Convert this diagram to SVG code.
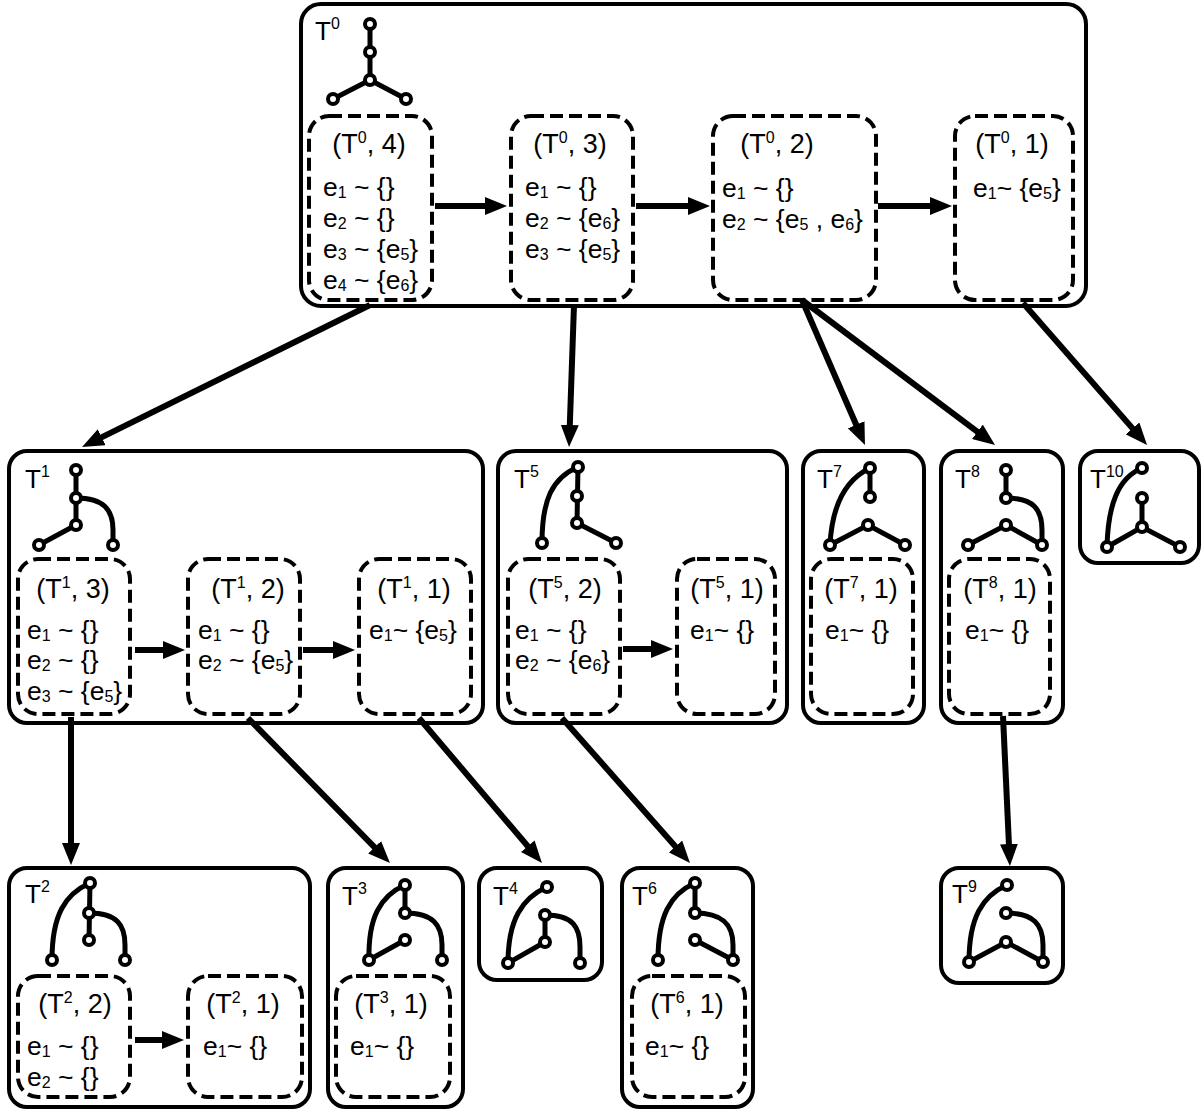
<svg xmlns="http://www.w3.org/2000/svg" width="1204" height="1114" viewBox="0 0 1204 1114">
<defs>
<style>
text{font-family:"Liberation Sans",Arial,sans-serif;fill:#000}
.lb{font-size:26px}
.hd{font-size:27px;text-anchor:middle}
.ln{font-size:26.5px}
.sp,.sb{font-size:16px}
.box{fill:#fff;stroke:#000;stroke-width:4}
.dbox{fill:none;stroke:#000;stroke-width:4;stroke-dasharray:13 6}
.edge{fill:none;stroke:#000;stroke-width:5;stroke-linecap:round}
.nd{fill:#fff;stroke:#000;stroke-width:4}
.arr{stroke:#000;stroke-width:6;fill:none;marker-end:url(#ah)}
</style>
<marker id="ah" markerUnits="userSpaceOnUse" markerWidth="22" markerHeight="18" viewBox="0 0 22 18" refX="6" refY="9" orient="auto">
<path d="M0,0 L22,9 L0,18 z" fill="#000"/>
</marker>
</defs>
<rect width="1204" height="1114" fill="#fff"/>

<g id="T0">
<rect class="box" x="301" y="4" width="785" height="302" rx="20"/>
<text class="lb" x="315" y="40">T<tspan class="sp" dy="-11">0</tspan></text>
<path class="edge" d="M370,24 L370,80 M370,80 L333,99 M370,80 L406,99"/>
<circle class="nd" cx="370" cy="24" r="5"/><circle class="nd" cx="370" cy="52" r="5"/><circle class="nd" cx="370" cy="80" r="5"/><circle class="nd" cx="333" cy="99" r="5"/><circle class="nd" cx="406" cy="99" r="5"/>
<rect class="dbox" x="309" y="116" width="123" height="184" rx="20"/>
<rect class="dbox" x="511" y="116" width="122" height="184" rx="20"/>
<rect class="dbox" x="713" y="116" width="163" height="184" rx="20"/>
<rect class="dbox" x="955" y="116" width="118" height="184" rx="20"/>
<text class="hd" x="369" y="153">(T<tspan class="sp" dy="-10">0</tspan><tspan dy="10">, 4)</tspan></text>
<text class="ln" x="323" y="196">e<tspan class="sb" dy="2">1</tspan><tspan dy="-2"> ~ {}</tspan></text>
<text class="ln" x="323" y="227">e<tspan class="sb" dy="2">2</tspan><tspan dy="-2"> ~ {}</tspan></text>
<text class="ln" x="323" y="258">e<tspan class="sb" dy="2">3</tspan><tspan dy="-2"> ~ {e</tspan><tspan class="sb" dy="2">5</tspan><tspan dy="-2">}</tspan></text>
<text class="ln" x="323" y="289">e<tspan class="sb" dy="2">4</tspan><tspan dy="-2"> ~ {e</tspan><tspan class="sb" dy="2">6</tspan><tspan dy="-2">}</tspan></text>
<text class="hd" x="570" y="153">(T<tspan class="sp" dy="-10">0</tspan><tspan dy="10">, 3)</tspan></text>
<text class="ln" x="525" y="196">e<tspan class="sb" dy="2">1</tspan><tspan dy="-2"> ~ {}</tspan></text>
<text class="ln" x="525" y="227">e<tspan class="sb" dy="2">2</tspan><tspan dy="-2"> ~ {e</tspan><tspan class="sb" dy="2">6</tspan><tspan dy="-2">}</tspan></text>
<text class="ln" x="525" y="258">e<tspan class="sb" dy="2">3</tspan><tspan dy="-2"> ~ {e</tspan><tspan class="sb" dy="2">5</tspan><tspan dy="-2">}</tspan></text>
<text class="hd" x="777" y="153">(T<tspan class="sp" dy="-10">0</tspan><tspan dy="10">, 2)</tspan></text>
<text class="ln" x="722" y="197">e<tspan class="sb" dy="2">1</tspan><tspan dy="-2"> ~ {}</tspan></text>
<text class="ln" x="722" y="228">e<tspan class="sb" dy="2">2</tspan><tspan dy="-2"> ~ {e</tspan><tspan class="sb" dy="2">5</tspan><tspan dy="-2"> , e</tspan><tspan class="sb" dy="2">6</tspan><tspan dy="-2">}</tspan></text>
<text class="hd" x="1012" y="153">(T<tspan class="sp" dy="-10">0</tspan><tspan dy="10">, 1)</tspan></text>
<text class="ln" x="973" y="197">e<tspan class="sb" dy="2">1</tspan><tspan dy="-2">~ {e</tspan><tspan class="sb" dy="2">5</tspan><tspan dy="-2">}</tspan></text>
<path class="arr" d="M435,206 L491,206"/>
<path class="arr" d="M636,206 L694,206"/>
<path class="arr" d="M878,206 L936,206"/>
</g>

<g id="T1">
<rect class="box" x="9" y="451" width="474" height="272" rx="18"/>
<text class="lb" x="25" y="488">T<tspan class="sp" dy="-11">1</tspan></text>
<path class="edge" d="M76,470 L76,525 L39,545 M76,498 C104,498 113,510 113,530 L113,545"/>
<circle class="nd" cx="76" cy="470" r="5"/><circle class="nd" cx="76" cy="498" r="5"/><circle class="nd" cx="76" cy="525" r="5"/><circle class="nd" cx="39" cy="545" r="5"/><circle class="nd" cx="113" cy="545" r="5"/>
<rect class="dbox" x="18" y="559" width="112" height="155" rx="20"/>
<rect class="dbox" x="188" y="559" width="112" height="155" rx="20"/>
<rect class="dbox" x="359" y="559" width="112" height="155" rx="20"/>
<text class="hd" x="73" y="598">(T<tspan class="sp" dy="-10">1</tspan><tspan dy="10">, 3)</tspan></text>
<text class="ln" x="27" y="639">e<tspan class="sb" dy="2">1</tspan><tspan dy="-2"> ~ {}</tspan></text>
<text class="ln" x="27" y="669">e<tspan class="sb" dy="2">2</tspan><tspan dy="-2"> ~ {}</tspan></text>
<text class="ln" x="27" y="700">e<tspan class="sb" dy="2">3</tspan><tspan dy="-2"> ~ {e</tspan><tspan class="sb" dy="2">5</tspan><tspan dy="-2">}</tspan></text>
<text class="hd" x="248" y="598">(T<tspan class="sp" dy="-10">1</tspan><tspan dy="10">, 2)</tspan></text>
<text class="ln" x="198" y="639">e<tspan class="sb" dy="2">1</tspan><tspan dy="-2"> ~ {}</tspan></text>
<text class="ln" x="198" y="669">e<tspan class="sb" dy="2">2</tspan><tspan dy="-2"> ~ {e</tspan><tspan class="sb" dy="2">5</tspan><tspan dy="-2">}</tspan></text>
<text class="hd" x="414" y="598">(T<tspan class="sp" dy="-10">1</tspan><tspan dy="10">, 1)</tspan></text>
<text class="ln" x="369" y="639">e<tspan class="sb" dy="2">1</tspan><tspan dy="-2">~ {e</tspan><tspan class="sb" dy="2">5</tspan><tspan dy="-2">}</tspan></text>
<path class="arr" d="M135,650 L169,650"/>
<path class="arr" d="M303,650 L339,650"/>
</g>

<g id="T5">
<rect class="box" x="498" y="451" width="289" height="272" rx="18"/>
<text class="lb" x="514" y="488">T<tspan class="sp" dy="-11">5</tspan></text>
<path class="edge" d="M578,467 L577,523 L616,543 M578,467 C552,478 542,500 542,543"/>
<circle class="nd" cx="578" cy="467" r="5"/><circle class="nd" cx="577" cy="496" r="5"/><circle class="nd" cx="577" cy="523" r="5"/><circle class="nd" cx="542" cy="543" r="5"/><circle class="nd" cx="616" cy="543" r="5"/>
<rect class="dbox" x="508" y="559" width="112" height="155" rx="20"/>
<rect class="dbox" x="677" y="559" width="98" height="155" rx="20"/>
<text class="hd" x="565" y="598">(T<tspan class="sp" dy="-10">5</tspan><tspan dy="10">, 2)</tspan></text>
<text class="ln" x="515" y="639">e<tspan class="sb" dy="2">1</tspan><tspan dy="-2"> ~ {}</tspan></text>
<text class="ln" x="515" y="669">e<tspan class="sb" dy="2">2</tspan><tspan dy="-2"> ~ {e</tspan><tspan class="sb" dy="2">6</tspan><tspan dy="-2">}</tspan></text>
<text class="hd" x="727" y="598">(T<tspan class="sp" dy="-10">5</tspan><tspan dy="10">, 1)</tspan></text>
<text class="ln" x="690" y="639">e<tspan class="sb" dy="2">1</tspan><tspan dy="-2">~ {}</tspan></text>
<path class="arr" d="M623,649 L657,649"/>
</g>

<g id="T7">
<rect class="box" x="803" y="451" width="121" height="272" rx="18"/>
<text class="lb" x="817" y="488">T<tspan class="sp" dy="-11">7</tspan></text>
<path class="edge" d="M870,468 L870,497 M830,545 L868,525 L905,545 M870,468 C845,480 832,505 830,545"/>
<circle class="nd" cx="870" cy="468" r="5"/><circle class="nd" cx="870" cy="497" r="5"/><circle class="nd" cx="868" cy="525" r="5"/><circle class="nd" cx="830" cy="545" r="5"/><circle class="nd" cx="905" cy="545" r="5"/>
<rect class="dbox" x="811" y="559" width="102" height="155" rx="20"/>
<text class="hd" x="861" y="598">(T<tspan class="sp" dy="-10">7</tspan><tspan dy="10">, 1)</tspan></text>
<text class="ln" x="825" y="639">e<tspan class="sb" dy="2">1</tspan><tspan dy="-2">~ {}</tspan></text>
</g>

<g id="T8">
<rect class="box" x="941" y="451" width="122" height="272" rx="18"/>
<text class="lb" x="955" y="488">T<tspan class="sp" dy="-11">8</tspan></text>
<path class="edge" d="M1006,470 L1006,498 M968,545 L1006,525 L1042,545 M1006,498 C1034,498 1042,510 1042,530 L1042,545"/>
<circle class="nd" cx="1006" cy="470" r="5"/><circle class="nd" cx="1006" cy="498" r="5"/><circle class="nd" cx="1006" cy="525" r="5"/><circle class="nd" cx="968" cy="545" r="5"/><circle class="nd" cx="1042" cy="545" r="5"/>
<rect class="dbox" x="949" y="559" width="101" height="155" rx="20"/>
<text class="hd" x="1000" y="598">(T<tspan class="sp" dy="-10">8</tspan><tspan dy="10">, 1)</tspan></text>
<text class="ln" x="965" y="639">e<tspan class="sb" dy="2">1</tspan><tspan dy="-2">~ {}</tspan></text>
</g>

<g id="T10">
<rect class="box" x="1080" y="451" width="119" height="112" rx="18"/>
<text class="lb" x="1090" y="488">T<tspan class="sp" dy="-11">10</tspan></text>
<path class="edge" d="M1142,498 L1142,527 M1107,547 L1142,527 L1180,547 M1142,468 C1118,478 1108,505 1107,547"/>
<circle class="nd" cx="1142" cy="468" r="5"/><circle class="nd" cx="1142" cy="498" r="5"/><circle class="nd" cx="1142" cy="527" r="5"/><circle class="nd" cx="1107" cy="547" r="5"/><circle class="nd" cx="1180" cy="547" r="5"/>
</g>

<g id="T2">
<rect class="box" x="9" y="868" width="301" height="239" rx="18"/>
<text class="lb" x="25" y="903">T<tspan class="sp" dy="-11">2</tspan></text>
<path class="edge" d="M90,883 L89,940 M90,883 C65,894 52,915 52,960 M89,913 C117,913 125,925 125,945 L125,960"/>
<circle class="nd" cx="90" cy="883" r="5"/><circle class="nd" cx="89" cy="913" r="5"/><circle class="nd" cx="89" cy="940" r="5"/><circle class="nd" cx="52" cy="960" r="5"/><circle class="nd" cx="125" cy="960" r="5"/>
<rect class="dbox" x="18" y="976" width="112" height="121" rx="20"/>
<rect class="dbox" x="188" y="976" width="114" height="121" rx="20"/>
<text class="hd" x="75" y="1013">(T<tspan class="sp" dy="-10">2</tspan><tspan dy="10">, 2)</tspan></text>
<text class="ln" x="27" y="1055">e<tspan class="sb" dy="2">1</tspan><tspan dy="-2"> ~ {}</tspan></text>
<text class="ln" x="27" y="1086">e<tspan class="sb" dy="2">2</tspan><tspan dy="-2"> ~ {}</tspan></text>
<text class="hd" x="243" y="1013">(T<tspan class="sp" dy="-10">2</tspan><tspan dy="10">, 1)</tspan></text>
<text class="ln" x="203" y="1055">e<tspan class="sb" dy="2">1</tspan><tspan dy="-2">~ {}</tspan></text>
<path class="arr" d="M135,1040 L168,1040"/>
</g>

<g id="T3">
<rect class="box" x="328" y="868" width="135" height="239" rx="18"/>
<text class="lb" x="342" y="905">T<tspan class="sp" dy="-11">3</tspan></text>
<path class="edge" d="M405,885 L405,913 M405,940 L369,960 M405,885 C380,896 368,918 369,960 M405,913 C433,913 442,925 442,945 L442,960"/>
<circle class="nd" cx="405" cy="885" r="5"/><circle class="nd" cx="405" cy="913" r="5"/><circle class="nd" cx="405" cy="940" r="5"/><circle class="nd" cx="369" cy="960" r="5"/><circle class="nd" cx="442" cy="960" r="5"/>
<rect class="dbox" x="336" y="976" width="114" height="121" rx="20"/>
<text class="hd" x="391" y="1013">(T<tspan class="sp" dy="-10">3</tspan><tspan dy="10">, 1)</tspan></text>
<text class="ln" x="350" y="1055">e<tspan class="sb" dy="2">1</tspan><tspan dy="-2">~ {}</tspan></text>
</g>

<g id="T4">
<rect class="box" x="479" y="868" width="123" height="112" rx="18"/>
<text class="lb" x="493" y="905">T<tspan class="sp" dy="-11">4</tspan></text>
<path class="edge" d="M545,915 L545,942 L508,963 M547,887 C522,898 508,920 508,963 M545,915 C573,915 580,927 580,947 L580,963"/>
<circle class="nd" cx="547" cy="887" r="5"/><circle class="nd" cx="545" cy="915" r="5"/><circle class="nd" cx="545" cy="942" r="5"/><circle class="nd" cx="508" cy="963" r="5"/><circle class="nd" cx="580" cy="963" r="5"/>
</g>

<g id="T6">
<rect class="box" x="622" y="868" width="131" height="239" rx="18"/>
<text class="lb" x="632" y="905">T<tspan class="sp" dy="-11">6</tspan></text>
<path class="edge" d="M695,883 L695,913 M695,940 L733,960 M695,883 C670,894 658,916 658,960 M695,913 C723,913 733,925 733,945 L733,960"/>
<circle class="nd" cx="695" cy="883" r="5"/><circle class="nd" cx="695" cy="913" r="5"/><circle class="nd" cx="695" cy="940" r="5"/><circle class="nd" cx="658" cy="960" r="5"/><circle class="nd" cx="733" cy="960" r="5"/>
<rect class="dbox" x="632" y="976" width="113" height="121" rx="20"/>
<text class="hd" x="687" y="1013">(T<tspan class="sp" dy="-10">6</tspan><tspan dy="10">, 1)</tspan></text>
<text class="ln" x="645" y="1055">e<tspan class="sb" dy="2">1</tspan><tspan dy="-2">~ {}</tspan></text>
</g>

<g id="T9">
<rect class="box" x="941" y="868" width="122" height="115" rx="18"/>
<text class="lb" x="952" y="903">T<tspan class="sp" dy="-11">9</tspan></text>
<path class="edge" d="M969,962 L1006,942 L1043,962 M1007,885 C982,896 969,918 969,962 M1006,913 C1034,913 1043,925 1043,945 L1043,962"/>
<circle class="nd" cx="1007" cy="885" r="5"/><circle class="nd" cx="1006" cy="913" r="5"/><circle class="nd" cx="1006" cy="942" r="5"/><circle class="nd" cx="969" cy="962" r="5"/><circle class="nd" cx="1043" cy="962" r="5"/>
</g>

<g id="connectors">
<path class="arr" d="M370,305 L96.4,439.9"/>
<path class="arr" d="M574,305 L569.6,431"/>
<path class="arr" d="M802,300 L858.6,430.3"/>
<path class="arr" d="M802,300 L982.2,435.4"/>
<path class="arr" d="M1023,303 L1136.5,432.9"/>
<path class="arr" d="M71,717 L71,849"/>
<path class="arr" d="M248,718 L378.8,851.6"/>
<path class="arr" d="M419,718 L531.6,850.8"/>
<path class="arr" d="M562,718 L679.4,851"/>
<path class="arr" d="M1003,716 L1009.2,850"/>
</g>
</svg>
